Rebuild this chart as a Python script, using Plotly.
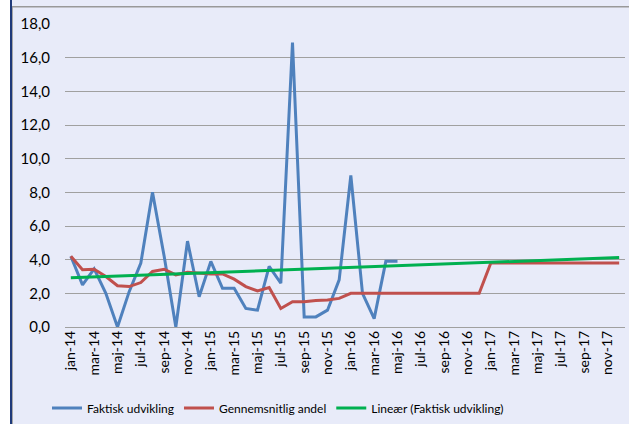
import numpy as np
import plotly.graph_objects as go

months = ["jan", "feb", "mar", "apr", "maj", "jun", "jul", "aug", "sep", "okt", "nov", "dec"]
categories = [f"{m}-{y}" for y in ["14", "15", "16", "17"] for m in months]

# Faktisk udvikling (jan-14 .. maj-16)
faktisk = [4.2, 2.5, 3.45, 2.0, 0.0, 2.1, 3.8, 8.0, 4.2, 0.0, 5.1, 1.8,
           3.9, 2.3, 2.3, 1.1, 1.0, 3.6, 2.6, 16.9, 0.6, 0.6, 1.0, 2.8,
           9.0, 2.0, 0.5, 3.9, 3.9]

# Gennemsnitlig andel (jan-14 .. dec-17)
gennemsnit = [4.2, 3.4, 3.43, 3.0, 2.45, 2.4, 2.64, 3.3, 3.43, 3.1, 3.25, 3.2,
              3.15, 3.15, 2.84, 2.4, 2.14, 2.34, 1.1, 1.5, 1.5, 1.57, 1.6, 1.7,
              2.0, 2.0, 2.0, 2.0, 2.0, 2.0, 2.0, 2.0, 2.0, 2.0, 2.0, 2.0,
              3.8, 3.8, 3.8, 3.8, 3.8, 3.8, 3.8, 3.8, 3.8, 3.8, 3.8, 3.8]

tick_labels = categories[::2]

# linear trendline of the actual series, extended over all categories
xi = np.arange(len(faktisk))
slope, intercept = np.polyfit(xi, faktisk, 1)
trend = [intercept + slope * i for i in range(len(categories))]

FONT = "Lato"
BG = "rgb(232,235,249)"

fig = go.Figure()
fig.add_trace(go.Scatter(x=categories[:len(faktisk)], y=faktisk, mode="lines",
                         name="Faktisk udvikling",
                         line=dict(color="#4F81BD", width=3)))
fig.add_trace(go.Scatter(x=categories, y=gennemsnit, mode="lines",
                         name="Gennemsnitlig andel",
                         line=dict(color="#C0504D", width=3)))
fig.add_trace(go.Scatter(x=categories, y=trend, mode="lines",
                         name="Lineær (Faktisk udvikling)",
                         line=dict(color="#00B050", width=3)))

L, R, T, B = 65, 4, 24, 97
W, H = 629, 424
pw, ph = W - L - R, H - T - B

def px(x):
    return (x - L) / pw

def py(y):
    return (H - B - y) / ph

shapes = [
    dict(type="rect", xref="paper", yref="paper", x0=px(-5), x1=px(10), y0=py(430), y1=py(-5),
         fillcolor="white", line=dict(width=0), layer="above"),
    dict(type="line", xref="paper", yref="paper", x0=px(11), x1=px(11), y0=py(430), y1=py(-5),
         line=dict(color="#1F3A7A", width=2), layer="above"),
    dict(type="line", xref="paper", yref="paper", x0=px(12.5), x1=px(12.5), y0=py(430), y1=py(7),
         line=dict(color="#A6A6A6", width=1), layer="above"),
    dict(type="rect", xref="paper", yref="paper", x0=px(12), x1=px(640), y0=py(7.5), y1=py(6),
         fillcolor="#999999", line=dict(width=0), layer="above"),
]

fig.update_layout(
    width=W, height=H,
    margin=dict(l=L, r=R, t=T, b=B),
    paper_bgcolor=BG, plot_bgcolor=BG,
    separators=",.",
    font=dict(family=FONT, size=12, color="black"),
    showlegend=True,
    legend=dict(orientation="h", xref="container", x=47 / W, xanchor="left",
                yref="container", y=16 / H, yanchor="middle",
                font=dict(family=FONT, size=12), bgcolor="rgba(0,0,0,0)",
                itemwidth=30, tracegroupgap=0),
    shapes=shapes,
)
fig.update_xaxes(type="category", categoryorder="array", categoryarray=categories,
                 range=[-0.5, len(categories) - 0.5],
                 tickmode="array", tickvals=tick_labels, ticktext=tick_labels,
                 tickangle=-90, tickfont=dict(family=FONT, size=14),
                 showgrid=False, showline=False, zeroline=False, ticks="")
fig.update_yaxes(range=[0, 18], dtick=2, tickformat=".1f",
                 showgrid=True, gridcolor="#A0A0A0", gridwidth=1,
                 zeroline=True, zerolinecolor="#A0A0A0", zerolinewidth=1,
                 showline=False, ticks="", ticklabelstandoff=14,
                 tickfont=dict(family=FONT, size=15))

fig.write_html("out.html", config={"displayModeBar": False},
               post_script="document.body.style.margin='0';document.body.style.overflow='hidden';")
